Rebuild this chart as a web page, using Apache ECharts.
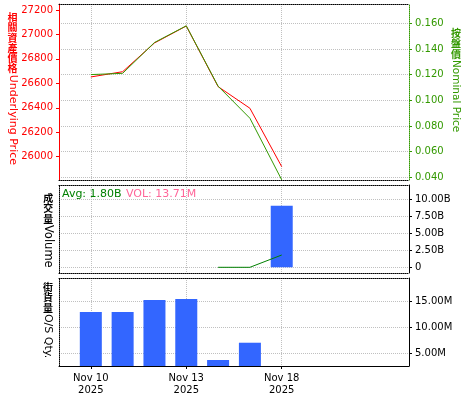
<!DOCTYPE html>
<html>
<head>
<meta charset="utf-8">
<style>
html,body{margin:0;padding:0;background:#fff;}
#chart{width:475px;height:400px;}
</style>
<script src="https://cdn.jsdelivr.net/npm/echarts@6/dist/echarts.min.js"></script>
</head>
<body>
<div id="chart"></div>
<script>
// ---- data ----
const dates = ['Nov 7','Nov 10','Nov 11','Nov 12','Nov 13','Nov 14','Nov 17','Nov 18','Nov 19','Nov 20','Nov 21','Nov 24'];
const labelDates = ['Nov 10','Nov 13','Nov 18'];
const year = '2025';
const underlying = [null,26652,26695,26930,27069,26573,26396,25918,null,null,null,null];
const nominal = [null,0.120,0.121,0.145,0.158,0.111,0.086,0.038,null,null,null,null];
const volume = [null,null,null,null,null,0,0,9.02e9,null,null,null,null];
const avgVolume = [null,null,null,null,null,0,0,1.8e9,null,null,null,null];
const osQty = [null,13.0e6,13.0e6,15.33e6,15.52e6,3.70e6,7.05e6,null,null,null,null,null];
const underlyingTicks = [26000,26200,26400,26600,26800,27000,27200];
const nominalTicks = [0.04,0.06,0.08,0.10,0.12,0.14,0.16];
const volumeTicks = [0,2.5e9,5e9,7.5e9,1e10];
const osTicks = [5e6,1e7,1.5e7];
const avgText = 'Avg: 1.80B';
const volText = 'VOL: 13.71M';

// ---- styles ----
const FONT = 'DejaVu Sans';
const CJK = '"Noto Sans CJK TC"';
const RED = '#ff0000';
const GREEN = '#339900';
const DKGREEN = '#008000';
const BLUE = '#3366ff';
const GRIDC = '#c0c0c0';
const dot = [1,1];
const isLabelDate = (i, v) => labelDates.indexOf(v) >= 0;

const grids = [
  {left:59, width:350, top:4, height:176},
  {left:59, width:350, top:185, height:88},
  {left:59, width:350, top:278, height:88}
];

function xBottom(gi, isMain){
  return {
    type:'category', gridIndex:gi, data:dates, boundaryGap:false, position:'bottom',
    axisLine:{show:true, onZero:false, lineStyle:{color:'#000', width:1, type: isMain ? 'solid' : dot}},
    axisTick:{show:isMain, interval:isLabelDate, length:3, lineStyle:{color:'#000'}},
    axisLabel:{show:isMain, interval:isLabelDate, margin:6, color:'#000',
      fontFamily:FONT, fontSize:10, lineHeight:12,
      formatter:(v)=> v + '\n' + year},
    splitLine:{show:true, interval:isLabelDate, lineStyle:{color:GRIDC, type:dot}}
  };
}
function xTop(gi){
  return {
    type:'category', gridIndex:gi, data:dates, boundaryGap:false, position:'top',
    axisLine:{show:true, onZero:false, lineStyle:{color:'#000', width:1, type:dot}},
    axisTick:{show:false}, axisLabel:{show:false}, splitLine:{show:false}
  };
}
function yDummy(gi){
  return {
    type:'value', gridIndex:gi, position:'left', min:0, max:1,
    axisLine:{show:true, onZero:false, lineStyle:{color:'#000', type:dot}},
    axisTick:{show:false}, axisLabel:{show:false}, splitLine:{show:false}
  };
}
function vTitle(x, y, cjk, latin, color, latinSize){
  return [
    { type:'text', x:x, y:y, style:{text:cjk.split('').join('\n'), fill:color,
        font:'bold 10px '+CJK, lineHeight:10.3, align:'center', verticalAlign:'top'} },
    { type:'text', x:x, y:y + cjk.length*10.3 + 1, rotation:-Math.PI/2,
      style:{text:latin, fill:color, font:latinSize+'px "'+FONT+'"', align:'left', verticalAlign:'middle'} }
  ];
}

const option = {
  animation:false,
  backgroundColor:'#fff',
  grid: grids,
  xAxis: [xBottom(0,false), xTop(0), xBottom(1,false), xTop(1), xBottom(2,true), xTop(2)],
  yAxis: [
    { type:'value', gridIndex:0, position:'left', min:25809, max:27249,
      axisLine:{show:true, onZero:false, lineStyle:{color:RED, width:1}},
      axisTick:{show:true, length:3, customValues:underlyingTicks, lineStyle:{color:RED}},
      axisLabel:{color:RED, fontFamily:FONT, fontSize:10, margin:6, customValues:underlyingTicks,
        formatter:(v)=>String(v)},
      splitLine:{show:false}
    },
    { type:'value', gridIndex:0, position:'right', min:0.0379, max:0.175,
      axisLine:{show:true, onZero:false, lineStyle:{color:GREEN, width:1, type:dot}},
      axisTick:{show:true, length:3, customValues:nominalTicks, lineStyle:{color:GREEN}},
      axisLabel:{color:GREEN, fontFamily:FONT, fontSize:10, margin:6, customValues:nominalTicks,
        formatter:(v)=>v.toFixed(3)},
      splitLine:{show:true, lineStyle:{color:GRIDC, type:dot}}
    },
    yDummy(1),
    { type:'value', gridIndex:1, position:'right', min:-0.835e9, max:12.05e9,
      axisLine:{show:true, onZero:false, lineStyle:{color:'#000', width:1}},
      axisTick:{show:true, length:3, customValues:volumeTicks, lineStyle:{color:'#000'}},
      axisLabel:{color:'#000', fontFamily:FONT, fontSize:10, margin:6, customValues:volumeTicks,
        formatter:(v)=> v === 0 ? '0' : (v/1e9).toFixed(2)+'B'},
      splitLine:{show:true, lineStyle:{color:GRIDC, type:dot}}
    },
    yDummy(2),
    { type:'value', gridIndex:2, position:'right', min:2.54e6, max:19.59e6,
      axisLine:{show:true, onZero:false, lineStyle:{color:'#000', width:1}},
      axisTick:{show:true, length:3, customValues:osTicks, lineStyle:{color:'#000'}},
      axisLabel:{color:'#000', fontFamily:FONT, fontSize:10, margin:6, customValues:osTicks,
        formatter:(v)=> (v/1e6).toFixed(2)+'M'},
      splitLine:{show:true, lineStyle:{color:GRIDC, type:dot}}
    }
  ],
  series: [
    { type:'line', name:'Underlying', xAxisIndex:0, yAxisIndex:0, data:underlying,
      symbol:'none', lineStyle:{color:RED, width:1}, itemStyle:{color:RED} },
    { type:'line', name:'Nominal', xAxisIndex:0, yAxisIndex:1, data:nominal,
      symbol:'none', lineStyle:{color:GREEN, width:1}, itemStyle:{color:GREEN} },
    { type:'bar', name:'Volume', xAxisIndex:2, yAxisIndex:3, data:volume,
      barWidth:22, itemStyle:{color:BLUE} },
    { type:'line', name:'AvgVol', xAxisIndex:2, yAxisIndex:3, data:avgVolume,
      symbol:'none', lineStyle:{color:DKGREEN, width:1}, itemStyle:{color:DKGREEN}, z:5 },
    { type:'bar', name:'OS', xAxisIndex:4, yAxisIndex:5, data:osQty,
      barWidth:22, itemStyle:{color:BLUE} }
  ],
  graphic: [].concat(
    vTitle(12.5, 12, '相關資產價格', 'Underlying Price', RED, 11),
    vTitle(456, 28, '按盤價', 'Nominal Price', GREEN, 10.5),
    vTitle(48.3, 193, '成交量', 'Volume', '#000', 11.5),
    vTitle(48, 282, '街貨量', 'O/S Qty.', '#000', 11),
    [
      { type:'text', x:62, y:194.5, style:{text:avgText, fill:DKGREEN, font:'11px "'+FONT+'"', align:'left', verticalAlign:'middle'} },
      { type:'text', x:126, y:194.5, style:{text:volText, fill:'#ff6699', font:'11px "'+FONT+'"', align:'left', verticalAlign:'middle'} }
    ]
  )
};

const chart = echarts.init(document.getElementById('chart'), null, {renderer:'canvas'});
chart.setOption(option);
</script>
</body>
</html>
